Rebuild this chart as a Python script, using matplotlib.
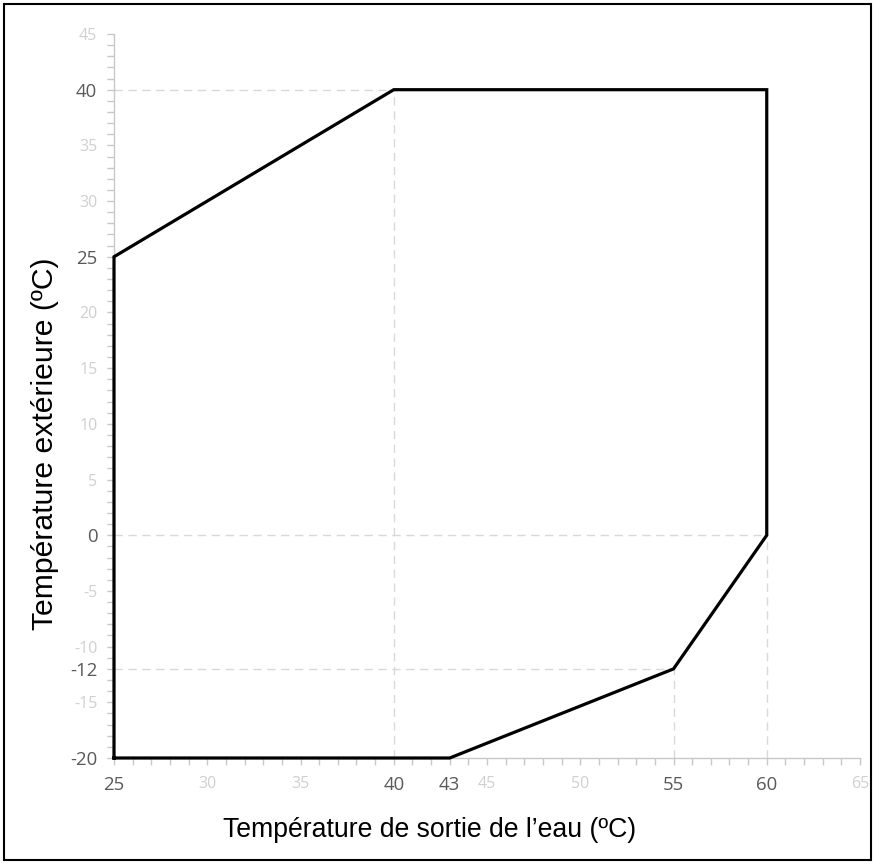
import matplotlib
matplotlib.use("Agg")
import matplotlib.pyplot as plt
from matplotlib.patches import Rectangle
from matplotlib.ticker import MultipleLocator

# Operating envelope (water outlet temp, outdoor temp)
env_x = [25, 25, 40, 60, 60, 55, 43, 25]
env_y = [-20, 25, 40, 40, 0, -12, -20, -20]

# Dashed reference lines: (x0, x1, y) horizontal; (x, y0, y1) vertical
h_refs = [(25, 40, 40), (25, 60, 0), (25, 55, -12)]
v_refs = [(40, -20, 40), (55, -20, -12), (60, -20, 0)]

x_ticks = [25, 30, 35, 40, 43, 45, 50, 55, 60, 65]
x_key = [25, 40, 43, 55, 60]
y_ticks = [45, 40, 35, 30, 25, 20, 15, 10, 5, 0, -5, -10, -12, -15, -20]
y_key = [40, 25, 0, -12, -20]

xlabel = "Température de sortie de l’eau (ºC)"
ylabel = "Température extérieure (ºC)"

W, H = 875, 864
fig = plt.figure(figsize=(W/100, H/100), dpi=100)
ax = fig.add_axes([114/W, 1-758/H, (860-114)/W, (758-34)/H])

grid_c = "#d9d9d9"
for x0, x1, y in h_refs:
    ax.plot([x0, x1], [y, y], color=grid_c, lw=1, ls=(0, (6, 4)), zorder=1)
for x, y0, y1 in v_refs:
    ax.plot([x, x], [y0, y1], color=grid_c, lw=1, ls=(0, (6, 4)), zorder=1)

ax.plot(env_x, env_y, color="black", lw=2.3, solid_joinstyle="miter", clip_on=False, zorder=3)

ax.set_xlim(25, 65)
ax.set_ylim(-20, 45)

for s in ["top", "right"]:
    ax.spines[s].set_visible(False)
for s in ["left", "bottom"]:
    ax.spines[s].set_color("#c8c8c8")
    ax.spines[s].set_linewidth(1)

ax.set_xticks(x_ticks)
ax.set_yticks(y_ticks)
ax.xaxis.set_minor_locator(MultipleLocator(1))
ax.yaxis.set_minor_locator(MultipleLocator(1))
ax.tick_params(which="both", direction="out", length=5, width=1, color="#c8c8c8")
ax.tick_params(axis="x", which="major", pad=8)
ax.tick_params(axis="y", which="major", pad=7)

ax.set_xticklabels([str(v) for v in x_ticks], family="Open Sans")
ax.set_yticklabels([str(v) for v in y_ticks], family="Open Sans")
for lab, v in zip(ax.get_xticklabels(), x_ticks):
    if v in x_key:
        lab.set_color("#595959"); lab.set_fontsize(13.4)
    else:
        lab.set_color("#d0d0d0"); lab.set_fontsize(11.5)
for lab, v in zip(ax.get_yticklabels(), y_ticks):
    if v in y_key:
        lab.set_color("#595959"); lab.set_fontsize(13.4)
    else:
        lab.set_color("#d0d0d0"); lab.set_fontsize(11.5)

fig.text(430/W, 1-837/H, xlabel, family="Liberation Sans", fontsize=19.2,
         ha="center", va="baseline", color="black")
fig.text(53/W, 1-444/H, ylabel, family="Liberation Sans", fontsize=21.7,
         ha="center", va="baseline", rotation=90, rotation_mode="anchor", color="black")

fig.patches.append(Rectangle((4/W, 4/H), 867/W, 856/H, transform=fig.transFigure,
                             fill=False, edgecolor="black", lw=1.5))

fig.savefig("out.png", dpi=100)
